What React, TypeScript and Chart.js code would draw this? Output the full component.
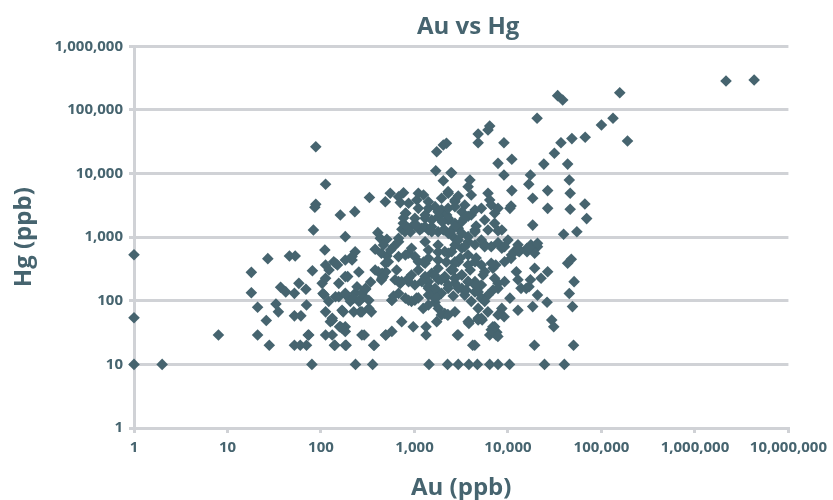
import { useEffect, useRef } from 'react';
import { Chart, registerables } from 'chart.js';

Chart.register(...registerables);

const chartTitle = 'Au vs Hg';
const xAxisTitle = 'Au (ppb)';
const yAxisTitle = 'Hg (ppb)';
const xTickValues = [1, 10, 100, 1000, 10000, 100000, 1000000, 10000000];
const yTickValues = [1, 10, 100, 1000, 10000, 100000, 1000000];

const TEXT = '#46646f';
const MARK = '#46646f';
const GRID = '#d0d2d6';

// [Au ppb, Hg ppb]
const lowAu: number[][] = [
  [1,530],[1,54],[1,10],[2,10],[8,29],[18,280],[18,134],[21,79],[21,29],[26,49],[27,460],[28,20],[33,89],[35,67],
  [37,163],[42,138],[46,505],[53,505],[52,131],[52,58],[52,20],[58,188],[60,20],[61,58],[69,152],[70,20],[70,86],
  [73,29],[80,10],[81,297],[83,1300],[86,2950],[88,3300],[88,26500],[74,29],
];

const hundredsAu: number[][] = [
  [103,188],[105,130],[108,125],[110,630],[112,365],[112,6800],[112,226],[121,98],[112,67],[112,29],[132,49],[137,412],
  [139,20],[150,365],[155,188],[155,116],[158,39],[161,2230],[173,67],[182,39],[182,240],[182,20],[182,1020],[193,116],
  [206,98],[215,437],[230,2520],[234,10],[232,592],[232,131],[254,98],[263,67],[274,29],[290,29],[288,116],[300,152],
  [330,4200],[346,67],[366,20],[357,10],[380,645],[406,1180],[431,960],[443,560],[450,270],[443,213],[495,29],[507,505],
  [495,287],[551,4900],[573,33],[573,102],[598,710],[132,29],[168,37],[182,33],[132,53],[168,71],[224,67],[274,67],
  [325,76],[143,116],[182,131],[224,110],[263,102],[274,131],[325,102],[193,240],[243,166],[300,157],[122,305],[143,390],
  [182,437],[215,495],[410,287],[466,240],[620,214],[705,188],[865,200],[676,495],[865,560],[490,390],[380,305],[126,47],
  [730,47],[141,20],[186,20],[372,20],[490,29],[162,39],[764,5000],[705,3500],[808,2380],[507,930],[733,1330],[791,1220],
  [676,960],[760,1650],[865,1380],[488,3610],[676,4330],[865,3410],[800,2380],[466,755],[676,850],[930,670],[525,412],
  [800,525],[450,226],[676,200],[930,254],[730,200],[865,226],[574,102],[676,131],[865,102],[970,39],[800,110],[930,98],
];

const thousandsAu: number[][] = [
  [1010,102],[1410,123],[1660,94],[2110,63],[1100,305],[1300,240],[1530,270],[1800,214],[2110,240],[2460,305],[2710,188],
  [1410,166],[1660,150],[1940,131],[1010,495],[1410,630],[1790,437],[2300,560],[2710,390],[1300,390],[1730,47],[4420,20],
  [1330,29],[2880,29],[6380,29],[7450,29],[1330,39],[3820,44],[4800,50],[5300,50],[7000,36],[7600,32],
  [1430,10],[2260,10],[2940,10],[3820,10],[4710,10],[6380,10],[7830,10],
  [1000,1610],[1060,3850],[1730,22100],[2035,28100],[2200,30000],[1690,11100],[2035,7730],[2500,10300],[1100,4900],
  [1250,4600],[2300,4900],[2710,3600],[1100,2840],[1410,2840],[1660,3020],[1950,2690],[2210,2230],[1300,1980],[1530,1860],
  [1790,2100],[2300,1860],[2710,1650],[1010,1550],[1140,1300],[1300,1460],[1410,1300],[1530,1460],[1790,1220],[2035,1300],
  [2300,1150],[2590,1020],[1410,3610],[1950,4090],[2710,3850],[3450,3210],[4050,4610],[1010,1980],[1300,2230],[1790,2520],
  [2300,1980],[3210,1750],[4050,2230],[1200,1380],[1530,1220],[2110,1300],[2940,1380],[4440,1220],[1300,850],[1790,755],
  [2110,593],[2710,755],[3750,850],[1100,412],[1410,465],[1790,325],[2710,412],[3750,365],[1410,200],[2110,226],[3210,254],
  [4440,200],[1010,177],[1200,200],[1410,157],[1940,214],[2300,177],[2710,226],[3210,157],[3750,200],[4440,138],[5200,177],
  [6120,123],[7830,157],[9200,200],[2260,60],[3820,47],[6900,39],[7200,31],[7800,27.5],[4800,53],[6100,67],[9100,56],
  [8600,76],[1800,76],[1940,60],[1050,110],[1240,76],[1410,86],[1530,123],[1660,157],[7830,188],[7200,226],[6900,325],
  [7400,365],[9200,412],[5200,365],[5640,287],[6630,390],[4800,138],[5200,110],[5640,98],[4800,76],[3750,47],[2940,29],
  [4200,20],[6630,35],[7830,60],[7200,39],[5200,53],[2290,60],[2710,67],[2290,157],[2710,226],[3210,254],[3750,200],
  [2940,157],[3450,123],[4050,98],[4440,177],[2500,593],[3210,670],[3750,525],[4440,412],[2940,412],[5640,760],[8600,670],
  [6380,56000],[4800,42000],[4800,30600],[6120,48500],[2460,10300],[3920,7940],[3750,6230],[2940,4450],[2290,5200],
  [6120,4900],[6380,3850],[2290,2840],[2710,3020],[3210,2500],[3750,2130],[4440,2670],[5200,2840],[6630,3210],[7200,2380],
  [5640,1860],[7200,1650],[8600,1300],[6120,1300],[2710,1460],[3210,1150],[3750,1020],[4440,1300],[5200,900],[2940,900],
  [3450,710],[4440,760],[5640,710],[7830,800],[6630,710],[9060,30600],[7830,14500],[9060,9500],[7830,2840],[7830,1260],
  [7830,820],[9200,710],
];

const denseCore: number[][] = [
  [764,2000],[906,1210],[1050,1550],[1990,1730],[2410,1210],[3400,1980],[4570,1500],[1790,585],[2190,407],[2600,305],
  [3090,471],[3940,305],[4570,471],[1630,254],[3570,148],[1710,111],[2600,119],[1250,407],[556,630],[645,305],[340,198],
  [254,284],[598,119],[1100,111],[5420,254],[6920,148],
];

const highAu: number[][] = [
  [10400,10],[24600,10],[40100,10],[10500,110],[12800,71],[12800,214],[12300,287],[13800,157],[10800,465],[13200,593],
  [16000,630],[17600,760],[11600,593],[12800,760],[16000,593],[43500,390],[51000,200],[49000,81],[29400,50],[30900,39],
  [26200,95],[18400,81],[19300,325],[26600,287],[22600,226],[20700,123],[15700,157],[16800,167],[17400,214],[45300,130],
  [19200,20],[50300,20],[20700,710],[16000,670],[12800,670],
  [2150000,286000],[4300000,296000],[157000,187000],[34000,168000],[38500,144000],[20500,74000],[133000,74000],
  [100000,58000],[190000,32600],[67000,37200],[48300,35500],[36900,30600],[31400,20900],[24200,14100],[43500,14100],
  [11000,16800],[17400,9500],[16700,6800],[45300,7940],[46300,4900],[11000,5400],[26600,5400],[18400,4100],[10800,3100],
  [10500,2840],[26600,2840],[46300,2750],[66500,3330],[69500,1960],[18400,1550],[39400,1110],[54600,1220],[10000,900],
  [12800,612],[10900,526],[17000,670],[20700,800],[19300,560],[47600,450],
];

const samples = [...lowAu, ...hundredsAu, ...thousandsAu, ...denseCore, ...highAu].map(([au, hg]) => ({ x: au, y: hg }));

const fmt = (v: number | string) => Number(v).toLocaleString('en-US');

export default function App() {
  const ref = useRef<HTMLCanvasElement>(null);

  useEffect(() => {
    document.body.style.margin = '0';
    if (!ref.current) return;
    Chart.defaults.font.family = '"Open Sans", sans-serif';

    const titlePlugin = {
      id: 'topTitle',
      afterDraw(chart: any) {
        const { ctx, chartArea } = chart;
        ctx.save();
        ctx.font = 'bold 24px "Open Sans", sans-serif';
        ctx.fillStyle = TEXT;
        ctx.textAlign = 'center';
        ctx.textBaseline = 'middle';
        ctx.fillText(chartTitle, (chartArea.left + chartArea.right) / 2 + 7, 27);
        ctx.restore();
      },
    };

    const chart = new Chart(ref.current, {
      type: 'scatter',
      data: {
        datasets: [
          {
            data: samples,
            pointStyle: 'rectRot',
            pointRadius: 5.8,
            pointHoverRadius: 5.8,
            backgroundColor: MARK,
            borderColor: MARK,
            borderWidth: 0,
            clip: false,
          } as any,
        ],
      },
      options: {
        responsive: false,
        animation: false,
        layout: { padding: { top: 46.4, right: 38, bottom: 0, left: 0 } },
        plugins: { legend: { display: false }, tooltip: { enabled: false }, title: { display: false } },
        scales: {
          x: {
            type: 'logarithmic',
            min: 1,
            max: 10000000,
            afterBuildTicks: (s: any) => {
              s.ticks = xTickValues.map((v) => ({ value: v }));
            },
            afterFit: (s: any) => {
              s.height = 72;
            },
            ticks: {
              color: TEXT,
              font: { size: 15, weight: 'bold' },
              padding: 6,
              autoSkip: false,
              maxRotation: 0,
              callback: (v: any) => fmt(v),
            },
            grid: { display: true, drawOnChartArea: false, drawTicks: true, tickLength: 5, color: GRID, lineWidth: 3 },
            border: { display: true, color: GRID, width: 3 },
            title: {
              display: true,
              text: xAxisTitle,
              color: TEXT,
              font: { size: 24, weight: 'bold', lineHeight: 1 },
              padding: { top: 0, bottom: 0 },
            },
          } as any,
          y: {
            type: 'logarithmic',
            min: 1,
            max: 1000000,
            afterBuildTicks: (s: any) => {
              s.ticks = yTickValues.map((v) => ({ value: v }));
            },
            afterFit: (s: any) => {
              s.width = 134;
            },
            ticks: {
              color: TEXT,
              font: { size: 15, weight: 'bold' },
              padding: 6,
              autoSkip: false,
              callback: (v: any) => fmt(v),
            },
            grid: { display: true, drawTicks: true, tickLength: 5, color: GRID, lineWidth: 3 },
            border: { display: true, color: GRID, width: 3 },
            title: {
              display: true,
              text: yAxisTitle,
              color: TEXT,
              font: { size: 24, weight: 'bold', lineHeight: 1 },
              padding: { top: 12, bottom: 0 },
            },
          } as any,
        },
      },
      plugins: [titlePlugin],
    });

    return () => chart.destroy();
  }, []);

  return (
    <div style={{ width: 833, height: 500, background: '#ffffff' }}>
      <canvas ref={ref} width={833} height={500} style={{ width: 833, height: 500, display: 'block' }} />
    </div>
  );
}
